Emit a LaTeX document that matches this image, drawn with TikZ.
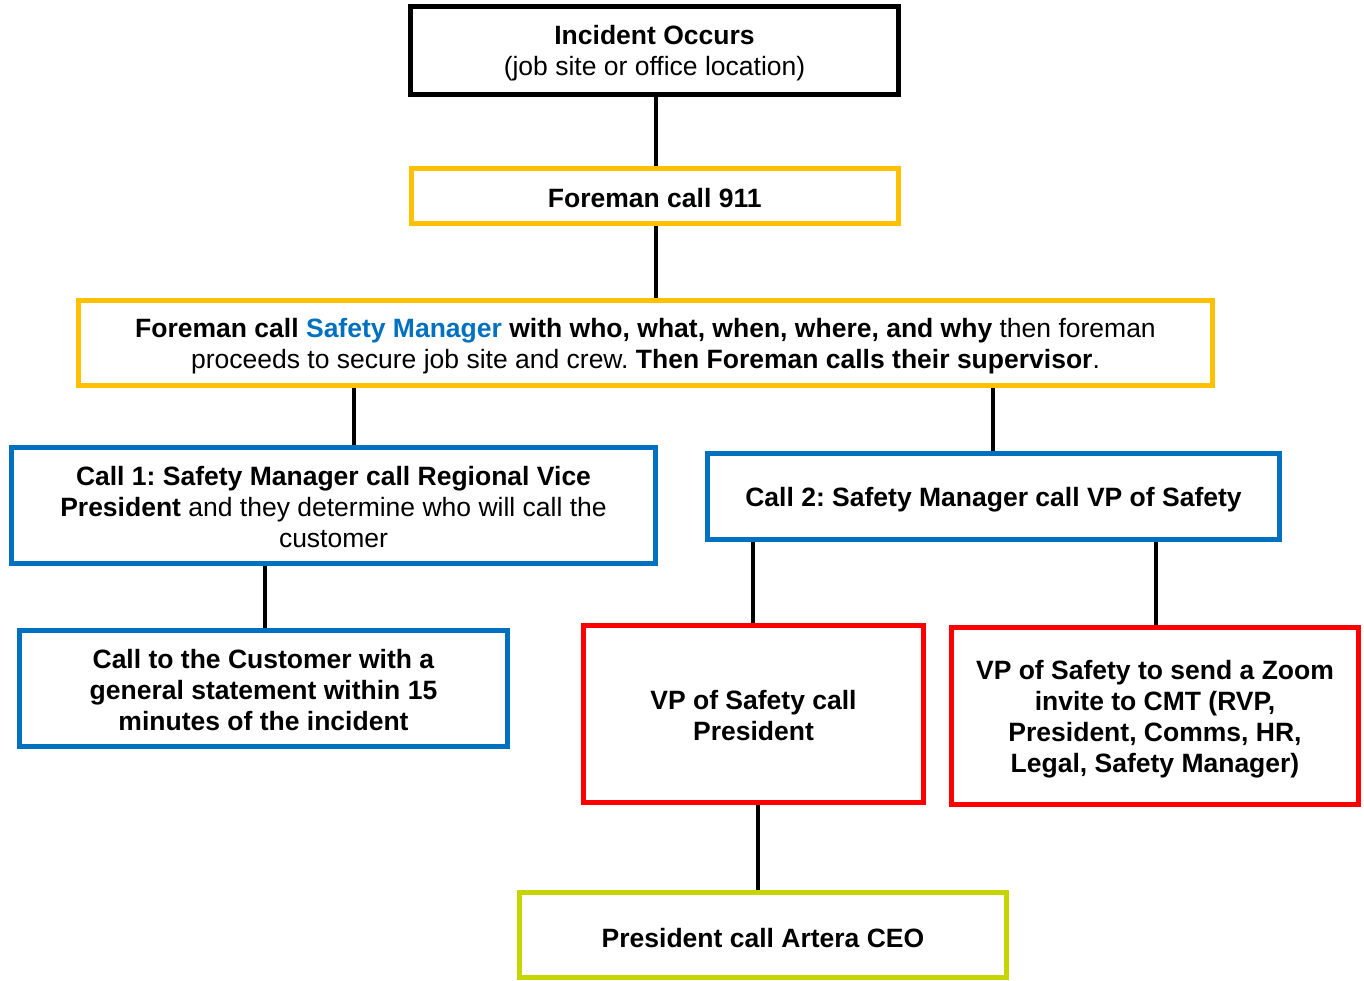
\documentclass[tikz,border=0pt]{standalone}
\usepackage{fontspec}
\setmainfont{Liberation Sans}
\frenchspacing
\definecolor{boxyellow}{RGB}{255,192,0}
\definecolor{boxblue}{RGB}{0,112,192}
\definecolor{boxred}{RGB}{255,0,0}
\definecolor{boxgreen}{RGB}{198,212,0}
\begin{document}
\begin{tikzpicture}[x=1pt,y=-1pt,
  flowbox/.style={draw, line width=5pt, fill=white, inner sep=0pt},
  boxtext/.style={inner sep=0pt, align=center, font=\fontsize{26.5}{31}\selectfont\frenchspacing},
  blackbox/.style={flowbox, draw=black},
  yellowbox/.style={flowbox, draw=boxyellow},
  bluebox/.style={flowbox, draw=boxblue},
  redbox/.style={flowbox, draw=boxred},
  greenbox/.style={flowbox, draw=boxgreen},
  link/.style={draw=black, line width=3.5pt}]
\useasboundingbox (0,0) rectangle (1364,980);

\node[blackbox, minimum width=488pt, minimum height=87.5pt] (n1) at (654.5,50.25) {};
\node[yellowbox, minimum width=487.5pt, minimum height=55.7pt] (n2) at (654.75,195.85) {};
\node[yellowbox, minimum width=1134pt, minimum height=85pt] (n3) at (645.5,343) {};
\node[bluebox, minimum width=644pt, minimum height=116pt] (n4) at (333.5,505.5) {};
\node[bluebox, minimum width=572pt, minimum height=86pt] (n5) at (993.5,496.5) {};
\node[bluebox, minimum width=488pt, minimum height=116pt] (n6) at (263.5,688.5) {};
\node[redbox, minimum width=340pt, minimum height=177pt] (n7) at (753.5,714) {};
\node[redbox, minimum width=407pt, minimum height=177pt] (n8) at (1155,716) {};
\node[greenbox, minimum width=487pt, minimum height=85pt] (n9) at (763,935) {};

\node[boxtext] (t1) at ([yshift=-3pt]n1.center)
  {\textbf{Incident Occurs}\\(job site or office location)};
\node[boxtext] (t2) at ([yshift=-2pt]n2.center)
  {\textbf{Foreman call 911}};
\node[boxtext] (t3) at ([yshift=-3.5pt]n3.center)
  {\textbf{Foreman call \textcolor{boxblue}{Safety Manager} with who, what, when, where, and why} then foreman\\
   proceeds to secure job site and crew. \textbf{Then Foreman calls their supervisor}.};
\node[boxtext] (t4) at ([yshift=-2pt]n4.center)
  {\textbf{Call 1: Safety Manager call Regional Vice}\\
   \textbf{President} and they determine who will call the\\customer};
\node[boxtext] (t5) at ([yshift=-3pt]n5.center)
  {\textbf{Call 2: Safety Manager call VP of Safety}};
\node[boxtext] (t6) at ([yshift=-2pt]n6.center)
  {\textbf{Call to the Customer with a}\\\textbf{general statement within 15}\\\textbf{minutes of the incident}};
\node[boxtext] (t7) at ([yshift=-2pt]n7.center)
  {\textbf{VP of Safety call}\\\textbf{President}};
\node[boxtext] (t8) at ([yshift=-3.5pt]n8.center)
  {\textbf{VP of Safety to send a Zoom}\\\textbf{invite to CMT (RVP,}\\\textbf{President, Comms, HR,}\\\textbf{Legal, Safety Manager)}};
\node[boxtext] (t9) at ([yshift=-3pt]n9.center)
  {\textbf{President call Artera CEO}};

\draw[link] (n1.south -| 656,0) -- (n2.north -| 656,0);
\draw[link] (n2.south -| 656,0) -- (n3.north -| 656,0);
\draw[link] (n3.south -| 354,0) -- (n4.north -| 354,0);
\draw[link] (n3.south -| 993,0) -- (n5.north -| 993,0);
\draw[link] (n4.south -| 265,0) -- (n6.north -| 265,0);
\draw[link] (n5.south -| 753,0) -- (n7.north -| 753,0);
\draw[link] (n5.south -| 1156,0) -- (n8.north -| 1156,0);
\draw[link] (n7.south -| 758,0) -- (n9.north -| 758,0);
\end{tikzpicture}
\end{document}
